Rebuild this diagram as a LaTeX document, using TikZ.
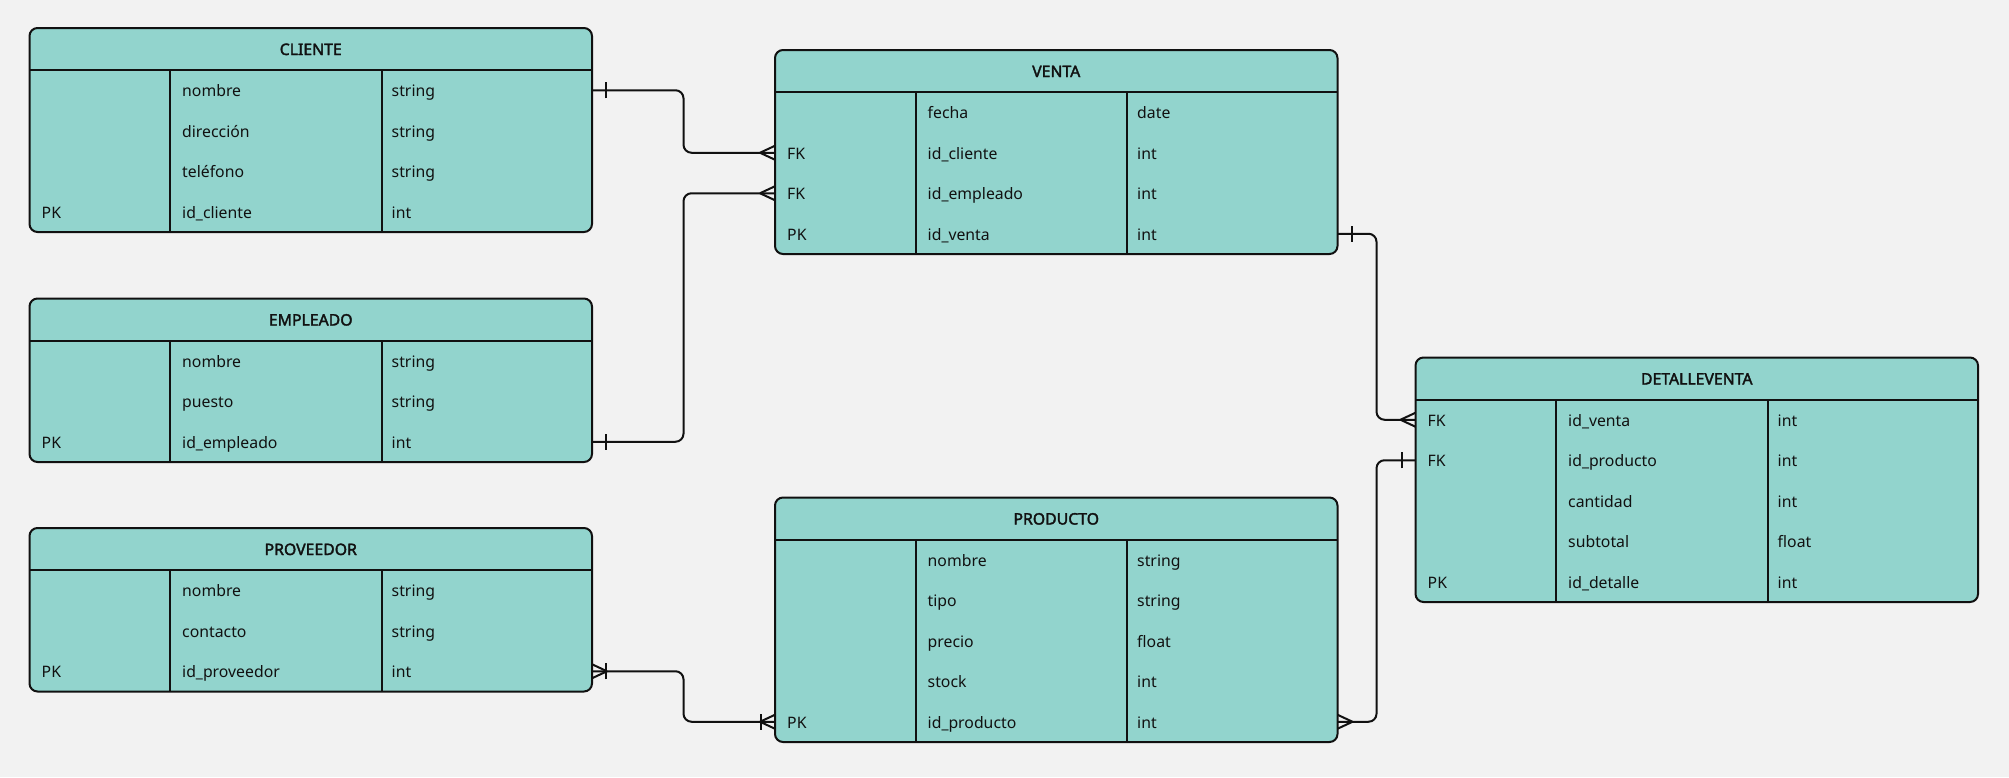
\documentclass[tikz,border=0pt]{standalone}
\usepackage{fontspec}
\setmainfont{Noto Sans}[AutoFakeBold=2.2]
\usetikzlibrary{calc}
\definecolor{bgc}{HTML}{F2F2F2}
\definecolor{tealfill}{HTML}{92D4CD}
\definecolor{ink}{HTML}{111111}
\tikzset{
  tbl/.style={draw=ink, line width=2pt, fill=tealfill, rounded corners=8pt},
  rule/.style={draw=ink, line width=2pt},
  ttl/.style={font=\fontsize{15.8}{18}\selectfont\bfseries, text=ink, inner sep=0pt, text height=11.5pt, text depth=3.5pt, yshift=-2pt},
  cell/.style={font=\fontsize{15.8}{18}\selectfont, text=ink, anchor=west, inner sep=0pt, text height=11.5pt, text depth=3.5pt, yshift=-2.5pt},
  conn/.style={draw=ink, line width=2pt, rounded corners=8pt},
  endmark/.style={draw=ink, line width=2pt}
}
% #1 name, #2 x, #3 y top, #4 title, #5 number of rows, #6 rows
\newcommand{\ertable}[6]{%
  \pgfmathsetmacro\tblh{42+40.5*#5}
  \draw[tbl] (#2,#3) rectangle ++(562.5,\tblh);
  \node[ttl] (#1) at (#2+281.25,#3+21) {#4};
  \draw[rule] (#2,#3+42) -- ++(562.5,0);
  \draw[rule] (#2+140.5,#3+42) -- ++(0,\tblh-42);
  \draw[rule] (#2+352,#3+42) -- ++(0,\tblh-42);
  \foreach \k/\n/\t [count=\i] in {#6} {
    \node[cell] (#1-\i-k) at (#2+12, #3+42+40.5*\i-20.25) {\k};
    \node[cell] (#1-\i-n) at (#2+152.5, #3+42+40.5*\i-20.25) {\n};
    \node[cell] (#1-\i-t) at (#2+362, #3+42+40.5*\i-20.25) {\t};
    \coordinate (#1-\i-L) at (#2, #3+42+40.5*\i-20.25);
    \coordinate (#1-\i-R) at (#2+562.5, #3+42+40.5*\i-20.25);
  }
}
\newcommand{\connect}[2]{\draw[conn] (#1) -| ($(#1)!.5!(#2)$) |- (#2);}
\newcommand{\manyL}[1]{\draw[endmark] ([xshift=-15pt]#1) -- ([yshift=7pt]#1) ([xshift=-15pt]#1) -- ([yshift=-7pt]#1);}
\newcommand{\manyR}[1]{\draw[endmark] ([xshift=15pt]#1) -- ([yshift=7pt]#1) ([xshift=15pt]#1) -- ([yshift=-7pt]#1);}
\newcommand{\oneL}[1]{\draw[endmark] ([xshift=-14pt,yshift=-8pt]#1) -- ([xshift=-14pt,yshift=8pt]#1);}
\newcommand{\oneR}[1]{\draw[endmark] ([xshift=14pt,yshift=-8pt]#1) -- ([xshift=14pt,yshift=8pt]#1);}
\begin{document}
\begin{tikzpicture}[x=1pt,y=-1pt]
\fill[bgc] (0,0) rectangle (2009,777);
\useasboundingbox (0,0) rectangle (2009,777);

\ertable{cliente}{29.5}{28}{CLIENTE}{4}{/nombre/string,/dirección/string,/teléfono/string,PK/id\_cliente/int}
\ertable{empleado}{29.5}{298.5}{EMPLEADO}{3}{/nombre/string,/puesto/string,PK/id\_empleado/int}
\ertable{proveedor}{29.5}{528}{PROVEEDOR}{3}{/nombre/string,/contacto/string,PK/id\_proveedor/int}
\ertable{venta}{775}{50}{VENTA}{4}{/fecha/date,FK/id\_cliente/int,FK/id\_empleado/int,PK/id\_venta/int}
\ertable{producto}{775}{497.5}{PRODUCTO}{5}{/nombre/string,/tipo/string,/precio/float,/stock/int,PK/id\_producto/int}
\ertable{detalleventa}{1415.5}{357.5}{DETALLEVENTA}{5}{FK/id\_venta/int,FK/id\_producto/int,/cantidad/int,/subtotal/float,PK/id\_detalle/int}

% CLIENTE -- VENTA
\connect{cliente-1-R}{venta-2-L}
\oneR{cliente-1-R}
\manyL{venta-2-L}
% EMPLEADO -- VENTA
\connect{empleado-3-R}{venta-3-L}
\oneR{empleado-3-R}
\manyL{venta-3-L}
% VENTA -- DETALLEVENTA
\connect{venta-4-R}{detalleventa-1-L}
\oneR{venta-4-R}
\manyL{detalleventa-1-L}
% PRODUCTO -- DETALLEVENTA
\connect{producto-5-R}{detalleventa-2-L}
\manyR{producto-5-R}
\oneL{detalleventa-2-L}
% PROVEEDOR -- PRODUCTO
\connect{proveedor-3-R}{producto-5-L}
\manyR{proveedor-3-R}
\oneR{proveedor-3-R}
\manyL{producto-5-L}
\oneL{producto-5-L}
\end{tikzpicture}
\end{document}
